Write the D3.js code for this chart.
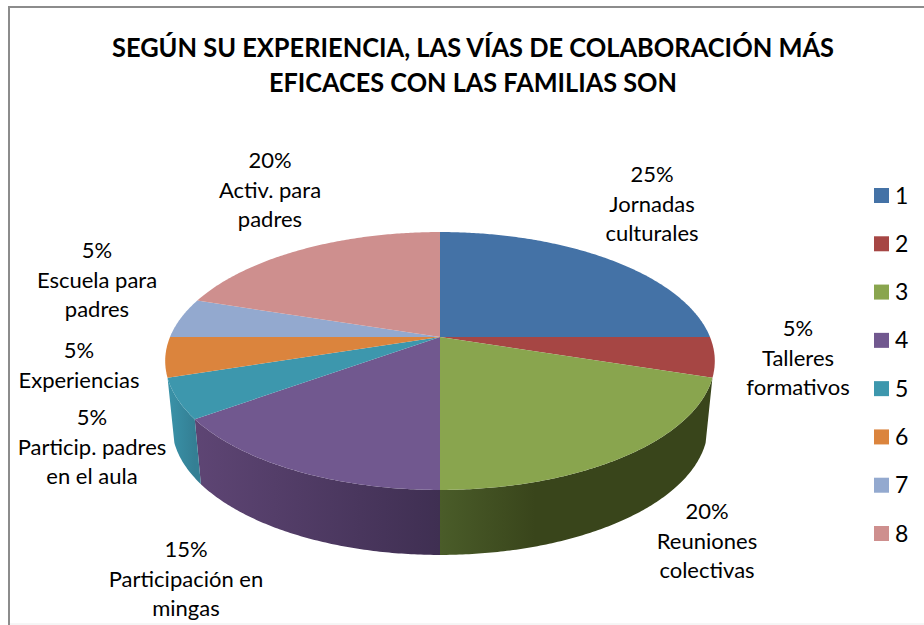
<!DOCTYPE html>
<html>
<head>
<meta charset="utf-8">
<style>
  html, body { margin: 0; padding: 0; background: #fff; }
  svg { display: block; }
  text { font-family: Lato, "Open Sans", sans-serif; fill: #000; }
</style>
</head>
<body>
<div id="chart"></div>
<script src="https://cdn.jsdelivr.net/npm/d3@7"></script>
<script>
const titleLines = ["SEGÚN SU EXPERIENCIA, LAS VÍAS DE COLABORACIÓN MÁS", "EFICACES CON LAS FAMILIAS SON"];
const categories = ["1", "2", "3", "4", "5", "6", "7", "8"];
const values = [25, 5, 20, 15, 5, 5, 5, 20];
const labels = [
    ["Jornadas", "culturales"],
    ["Talleres", "formativos"],
    ["Reuniones", "colectivas"],
    ["Participación en", "mingas"],
    ["Particip. padres", "en el aula"],
    ["Experiencias"],
    ["Escuela para", "padres"],
    ["Activ. para", "padres"]
];
const colors = ["#4472a6", "#a64644", "#89a54e", "#71588f", "#3d97ad", "#db843d", "#93a9cf", "#ce8f8e"];
const wallFrom = ["#4a5c29", "#5e4574", "#3a93a9"];
const wallTo = ["#39451b", "#3f2f52", "#347f94"];

const width = 924, height = 625;

const svg = d3.select("#chart")
    .append("svg")
        .attr("width", width)
        .attr("height", height);

// marc del gràfic
svg.append("line").attr("x1", 9).attr("y1", 7).attr("x2", width).attr("y2", 7)
    .attr("stroke", "#8c8c8c").attr("stroke-width", 2);
svg.append("line").attr("x1", 9).attr("y1", 6).attr("x2", 9).attr("y2", height)
    .attr("stroke", "#8c8c8c").attr("stroke-width", 2);
svg.append("line").attr("x1", 10).attr("y1", 624).attr("x2", width).attr("y2", 624)
    .attr("stroke", "#ececec").attr("stroke-width", 1);

// titol
const titleWidths = [722, 408];

svg.append("g").selectAll("text")
    .data(titleLines)
    .enter()
    .append("text")
        .attr("x", 473)
        .attr("y", (d, i) => 57 + i * 35)
        .attr("text-anchor", "middle")
        .attr("textLength", (d, i) => titleWidths[i])
        .attr("lengthAdjust", "spacingAndGlyphs")
        .style("font-size", "27px")
        .style("font-weight", "bold")
        .text(d => d);

// pastis en perspectiva: cercle pla projectat sobre l'el·lipse
const cx = 440, cy = 337;
const rx = 270, ry = 124.5, persp = 0.186;
const depth = 65, lowerScale = 0.975;

function project(a, lower) {
    const u = Math.sin(a), v = Math.cos(a);
    const w = 1 + persp * v;
    const sx = lower ? lowerScale : 1;
    return [cx + rx * sx * u / w, cy + (lower ? depth : 0) - ry * v / w];
}

function arcPoints(a0, a1, lower) {
    const n = Math.max(2, Math.ceil((a1 - a0) / 0.01));
    return d3.range(n + 1).map(i => project(a0 + (a1 - a0) * i / n, lower));
}

const line = d3.line();
const pie = d3.pie().sort(null)(values);

// parets laterals, només la part visible de davant
const wallStart = pie[2].startAngle, wallEnd = pie[4].endAngle;
const walls = pie.filter(d => d.endAngle > wallStart && d.startAngle < wallEnd);

const defs = svg.append("defs");
walls.forEach(function(d, i) {
    const grad = defs.append("linearGradient")
        .attr("id", "wall" + i)
        .attr("gradientUnits", "userSpaceOnUse")
        .attr("x1", project(d.endAngle, false)[0]).attr("y1", 0)
        .attr("x2", project(d.startAngle, false)[0]).attr("y2", 0);
    grad.append("stop").attr("offset", "0%").attr("stop-color", wallFrom[i]);
    grad.append("stop").attr("offset", i === 0 ? "35%" : "100%").attr("stop-color", wallTo[i]);
});

svg.append("g").selectAll("path")
    .data(walls)
    .enter()
    .append("path")
        .attr("d", function(d) {
            const pts = arcPoints(d.startAngle, d.endAngle, false).concat(arcPoints(d.startAngle, d.endAngle, true).reverse());
            return line(pts) + "Z";
        })
        .attr("fill", (d, i) => `url(#wall${i})`);

// cara superior
svg.append("g").selectAll("path")
    .data(pie)
    .enter()
    .append("path")
        .attr("d", d => line([[cx, cy]].concat(arcPoints(d.startAngle, d.endAngle, false))) + "Z")
        .attr("fill", (d, i) => colors[i]);

// etiquetes de dades
const labelAnchors = [[652, 182], [798, 336], [707, 519], [186, 557], [92, 425], [79, 358], [97, 258], [270, 168]];
const lineStep = 29.5;

const labelGroups = svg.append("g").selectAll("text")
    .data(labels)
    .enter()
    .append("text")
        .attr("text-anchor", "middle")
        .style("font-size", "22px");

labelGroups.each(function(d, i) {
    const t = d3.select(this);
    const lines = [d3.format(".0f")(values[i]) + "%"].concat(d);
    lines.forEach(function(s, j) {
        t.append("tspan")
            .attr("x", labelAnchors[i][0])
            .attr("y", labelAnchors[i][1] + j * lineStep)
            .text(s);
    });
});

// llegenda
const legendY = d3.scalePoint().domain(categories).range([195.5, 533.5]);

const legend = svg.append("g").selectAll("g")
    .data(categories)
    .enter()
    .append("g")
        .attr("transform", d => `translate(874, ${legendY(d)})`);

legend.append("rect")
    .attr("y", -7.5)
    .attr("width", 15)
    .attr("height", 15)
    .attr("fill", (d, i) => colors[i]);

legend.append("text")
    .attr("x", 21)
    .attr("y", 8)
    .style("font-size", "23px")
    .text(d => d);
</script>
</body>
</html>
